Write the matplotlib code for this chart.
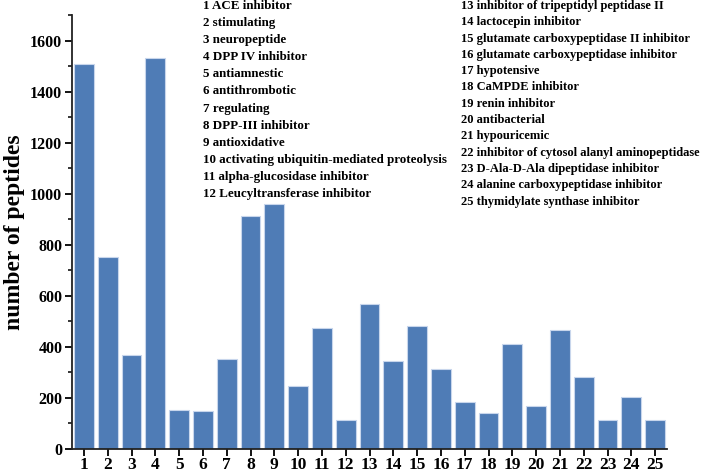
import numpy as np
import matplotlib.pyplot as plt
from matplotlib.ticker import MultipleLocator

plt.rcParams['font.family'] = ['Liberation Serif', 'DejaVu Serif']
plt.rcParams['font.weight'] = 'bold'

categories = list(range(1, 26))
counts = [1510, 753, 369, 1532, 151, 147, 351, 912, 959, 246,
          475, 115, 567, 343, 483, 313, 185, 142, 412, 167,
          466, 282, 115, 204, 112]

names_left = ['1 ACE inhibitor', '2 stimulating', '3 neuropeptide',
              '4 DPP IV inhibitor', '5 antiamnestic', '6 antithrombotic',
              '7 regulating', '8 DPP-III inhibitor', '9 antioxidative',
              '10 activating ubiquitin-mediated proteolysis',
              '11 alpha-glucosidase inhibitor',
              '12 Leucyltransferase inhibitor']
names_right = ['13 inhibitor of tripeptidyl peptidase II',
               '14 lactocepin inhibitor',
               '15 glutamate carboxypeptidase II inhibitor',
               '16 glutamate carboxypeptidase inhibitor',
               '17 hypotensive', '18 CaMPDE inhibitor', '19 renin inhibitor',
               '20 antibacterial', '21 hypouricemic',
               '22 inhibitor of cytosol alanyl aminopeptidase',
               '23 D-Ala-D-Ala dipeptidase inhibitor',
               '24 alanine carboxypeptidase inhibitor',
               '25 thymidylate synthase inhibitor']

W, H = 708, 474
fig = plt.figure(figsize=(W / 100, H / 100), dpi=100)
ax = fig.add_axes([72 / W, 1 - 449 / H, (667 - 72) / W, (449 - 15) / H])

ax.bar(categories, counts, width=0.84, color='#4f7cb6',
       edgecolor='#c8d6ec', linewidth=0.8)

ax.set_xlim(0.5, 25.5)
ax.set_ylim(0, 1700)
ax.set_xticks(categories)
ax.yaxis.set_major_locator(MultipleLocator(200))
ax.yaxis.set_minor_locator(MultipleLocator(100))
ax.spines['top'].set_visible(False)
ax.spines['right'].set_visible(False)
for s in ['left', 'bottom']:
    ax.spines[s].set_linewidth(1.3)
    ax.spines[s].set_color('#222222')
ax.tick_params(axis='x', direction='out', length=5, width=1.3,
               labelsize=12.5, pad=0.5)
ax.tick_params(axis='y', which='major', direction='out', length=5,
               width=1.3, labelsize=11.5, pad=2)
ax.tick_params(axis='y', which='minor', direction='out', length=3, width=1.1)
for lab in ax.get_xticklabels() + ax.get_yticklabels():
    lab.set_fontweight('bold')

ax.set_ylabel('number of peptides', fontsize=17, fontweight='bold', labelpad=4)

# category legend written as two text columns
for i, t in enumerate(names_left):
    fig.text(203 / W, 1 - (6 + 17.1 * i) / H, t, fontsize=9.4,
             fontweight='bold', va='center', ha='left')
for i, t in enumerate(names_right):
    fig.text(461 / W, 1 - (6 + 16.3 * i) / H, t, fontsize=9.0,
             fontweight='bold', va='center', ha='left')

fig.savefig('out.png', dpi=100)
